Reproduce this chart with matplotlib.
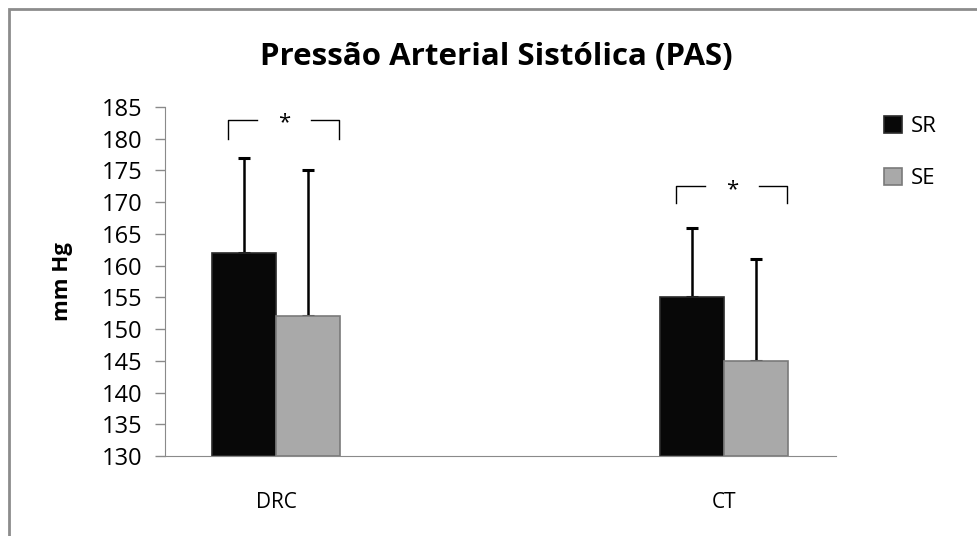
import matplotlib
matplotlib.use("Agg")
import matplotlib.pyplot as plt
from matplotlib.patches import Rectangle

plt.rcParams['font.family'] = ['Open Sans', 'DejaVu Sans']

# data
groups = ['DRC', 'CT']
series = ['SR', 'SE']
sr_mean = [162, 155]
se_mean = [152, 145]
sr_sd = [15, 11]
se_sd = [23, 16]
bracket_top = [183, 172.5]
bracket_foot = [180, 169.8]

colors = {'SR': '#080808', 'SE': '#a9a9a9'}
edges = {'SR': '#2a2a2a', 'SE': '#7a7a7a'}

W = 0.143

fig = plt.figure(figsize=(9.77, 5.36), dpi=100)
ax = fig.add_axes([165 / 977, 1 - 456 / 536, (836 - 165) / 977, (456 - 107) / 536])

x = list(range(len(groups)))
for k, (name, means, sds) in enumerate([('SR', sr_mean, sr_sd), ('SE', se_mean, se_sd)]):
    xs = [i + (k - 0.5) * W for i in x]
    heights = [m - 130 for m in means]
    ax.bar(xs, heights, W, bottom=130, color=colors[name], edgecolor=edges[name],
           linewidth=1.2, label=name, zorder=2)
    ax.errorbar(xs, means, yerr=[[0] * len(sds), sds], fmt='none', ecolor='black',
                elinewidth=1.8, capsize=4.5, capthick=2.2, zorder=1)

# significance brackets
for i in x:
    top, foot = bracket_top[i], bracket_foot[i]
    left, right = i - 0.108, i + 0.14
    ax.plot([left, left, i - 0.043], [foot, top, top], color='black', lw=1, clip_on=False)
    ax.plot([i + 0.077, right, right], [top, top, foot], color='black', lw=1, clip_on=False)
    ax.text(i + 0.018, top - 0.5, '*', ha='center', va='center', fontsize=16)

ax.set_xlim(-0.248, 1.25)
ax.set_ylim(130, 185)
ax.set_yticks(range(130, 186, 5))
ax.set_xticks(x)
ax.set_xticklabels(groups, fontsize=15)
ax.tick_params(axis='x', length=0, pad=26)
ax.tick_params(axis='y', labelsize=17, length=7, width=1, color='#8a8a8a', pad=9)
for s in ['top', 'right']:
    ax.spines[s].set_visible(False)
for s in ['left', 'bottom']:
    ax.spines[s].set_color('#8a8a8a')
ax.set_ylabel('mm Hg', fontsize=16, fontweight='bold', labelpad=21)

fig.text(0.508, 0.893, 'Pressão Arterial Sistólica (PAS)', ha='center', va='center',
         fontsize=22.5, fontweight='bold')

fig.legend(loc='upper left', bbox_to_anchor=(875 / 977, 1 - 107 / 536), frameon=False,
           fontsize=16, handlelength=0.8, handleheight=0.8, handletextpad=0.4,
           labelspacing=1.38, borderaxespad=0)

fig.patches.append(Rectangle((9 / 977, -0.1), 1.2, 1 - 9 / 536 + 0.1, transform=fig.transFigure,
                             fill=False, edgecolor='#8c8c8c', linewidth=2))

fig.savefig('out.png', dpi=100)
